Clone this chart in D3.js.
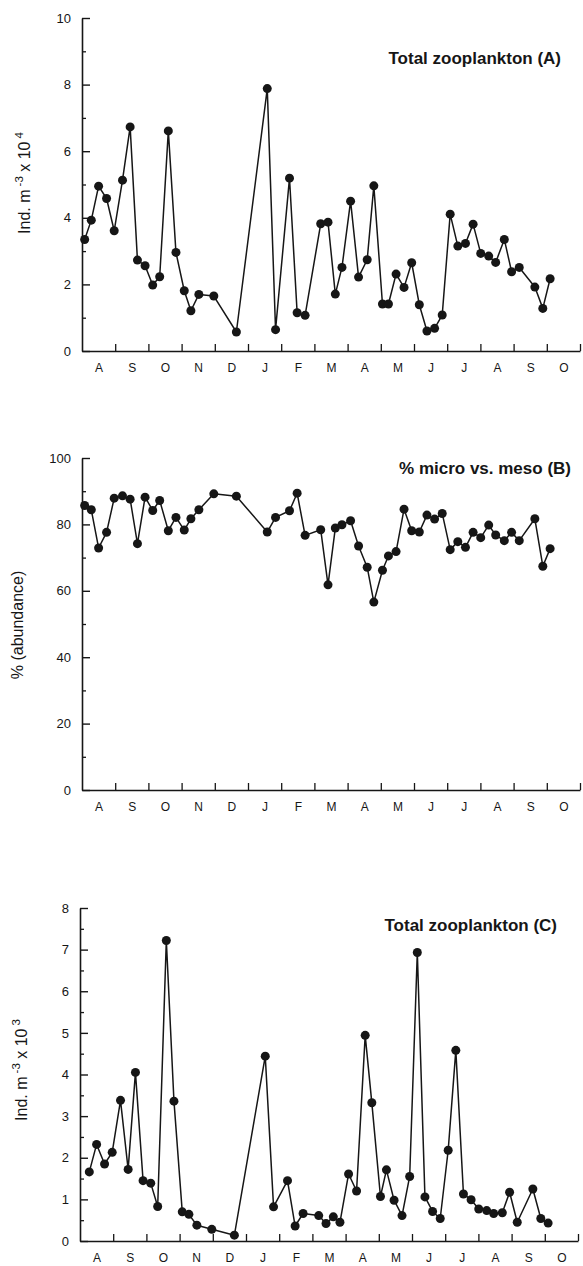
<!DOCTYPE html>
<html><head><meta charset="utf-8">
<script src="https://cdn.jsdelivr.net/npm/d3@7"></script>
<style>
html,body{margin:0;padding:0;background:#fff;}
svg{display:block;font-family:"Liberation Sans",Arial,Helvetica,sans-serif;}
</style></head>
<body>
<svg id="chart" width="583" height="1266"></svg>
<script>
// Month labels (Aug through Oct of the following year)
const monthLabels = ["A","S","O","N","D","J","F","M","A","M","J","J","A","S","O"];
// Sampling dates, as month offsets from start of August
const sampleMonths = [0.08,0.28,0.50,0.74,0.97,1.22,1.45,1.67,1.90,2.13,2.34,2.60,2.83,3.08,3.28,3.52,3.97,4.65,
  5.58,5.83,6.25,6.48,6.72,7.19,7.41,7.63,7.83,8.09,8.33,8.59,8.79,9.05,9.23,9.46,9.70,9.93,10.16,10.39,10.62,10.85,
  11.09,11.32,11.55,11.78,12.01,12.25,12.46,12.72,12.94,13.17,13.64,13.88,14.10];
// Panel A: Total zooplankton, ind m^-3 x 10^4
const totalA = [3.35,3.93,4.95,4.58,3.61,5.13,6.73,2.73,2.56,1.98,2.23,6.61,2.96,1.81,1.21,1.70,1.65,0.57,
  7.88,0.64,5.19,1.15,1.07,3.82,3.87,1.71,2.51,4.50,2.22,2.74,4.96,1.41,1.41,2.31,1.91,2.65,1.39,0.60,0.68,1.08,
  4.11,3.15,3.23,3.81,2.93,2.85,2.66,3.35,2.38,2.51,1.92,1.28,2.17];
// Panel B: % micro vs. meso (abundance)
const pctB = [85.7,84.4,72.9,77.6,87.9,88.6,87.6,74.2,88.2,84.2,87.2,78.1,82.1,78.3,81.7,84.4,89.2,88.5,
  77.7,82.1,84.1,89.4,76.7,78.4,61.8,78.9,79.9,81.1,73.5,67.1,56.6,66.2,70.5,71.8,84.6,78.1,77.7,82.8,81.6,83.3,
  72.4,74.8,73.1,77.6,76.0,79.8,76.8,75.1,77.6,75.1,81.7,67.4,72.7];
// Panel C: Total zooplankton, ind m^-3 x 10^3 (no sample on first date)
const totalC = [null,1.66,2.32,1.85,2.13,3.38,1.72,4.05,1.45,1.39,0.83,7.22,3.36,0.70,0.64,0.38,0.28,0.14,
  4.44,0.82,1.45,0.36,0.66,0.61,0.42,0.58,0.45,1.61,1.20,4.94,3.32,1.07,1.71,0.98,0.61,1.55,6.93,1.06,0.71,0.54,
  2.18,4.58,1.13,0.99,0.77,0.73,0.66,0.68,1.17,0.45,1.25,0.54,0.43];

const titles = ["Total zooplankton (A)", "% micro vs. meso (B)", "Total zooplankton (C)"];

const svg = d3.select("#chart");
const ink = "#161616";

const panels = [
  {values: totalA, x0: 82, x1: 580, yTop: 18, yBot: 351, ymax: 10, major: 2, minor: 1,
   title: titles[0], titleX: 561, titleY: 64, ylabX: 30, ylabY: 183, ylab: ["Ind. m", "-3", " x 10", "4"]},
  {values: pctB, x0: 82, x1: 580, yTop: 458, yBot: 790, ymax: 100, major: 20, minor: 10,
   title: titles[1], titleX: 571, titleY: 474, ylabX: 23, ylabY: 625, ylab: ["% (abundance)"]},
  {values: totalC, x0: 80, x1: 578, yTop: 908, yBot: 1241, ymax: 8, major: 1, minor: 0.5,
   title: titles[2], titleX: 557, titleY: 931, ylabX: 27, ylabY: 1070, ylab: ["Ind. m", "-3", " x 10", "3"]}
];

panels.forEach(p => {
  const x = d3.scaleLinear().domain([0, monthLabels.length]).range([p.x0, p.x1]);
  const y = d3.scaleLinear().domain([0, p.ymax]).range([p.yBot, p.yTop]);
  const g = svg.append("g");

  // minor y ticks
  const minorVals = d3.range(0, p.ymax + 1e-9, p.minor).filter(v => Math.abs(v / p.major - Math.round(v / p.major)) > 1e-6);
  g.append("g").attr("transform", `translate(${p.x0},0)`)
    .call(d3.axisLeft(y).tickValues(minorVals).tickSizeInner(-4).tickSizeOuter(0).tickFormat(""))
    .call(a => a.select(".domain").remove())
    .call(a => a.selectAll("line").attr("stroke", ink).attr("stroke-width", 1.3));

  // major y axis
  const majorVals = d3.range(0, p.ymax + 1e-9, p.major);
  g.append("g").attr("transform", `translate(${p.x0},0)`)
    .call(d3.axisLeft(y).tickValues(majorVals).tickSizeInner(-8).tickSizeOuter(0).tickPadding(11).tickFormat(d3.format("d")))
    .call(a => a.select(".domain").attr("stroke", ink).attr("stroke-width", 1.6))
    .call(a => a.selectAll("line").attr("stroke", ink).attr("stroke-width", 1.4))
    .call(a => a.selectAll("text").attr("fill", ink).attr("font-size", 13).attr("font-family", "Liberation Sans, Arial, sans-serif"));

  // x axis: month boundary ticks (upward)
  g.append("g").attr("transform", `translate(0,${p.yBot})`)
    .call(d3.axisBottom(x).tickValues(d3.range(1, monthLabels.length + 1)).tickSizeInner(-7).tickSizeOuter(0).tickFormat(""))
    .call(a => a.select(".domain").attr("stroke", ink).attr("stroke-width", 1.6))
    .call(a => a.selectAll("line").attr("stroke", ink).attr("stroke-width", 1.3));

  // x axis: month labels centred within months
  g.append("g").attr("transform", `translate(0,${p.yBot})`)
    .call(d3.axisBottom(x).tickValues(d3.range(0.5, monthLabels.length, 1)).tickSize(0).tickPadding(12)
      .tickFormat((d, i) => monthLabels[i]))
    .call(a => a.select(".domain").remove())
    .call(a => a.selectAll("text").attr("fill", ink).attr("font-size", 12).attr("font-family", "Liberation Sans, Arial, sans-serif"));

  // data
  const pts = sampleMonths.map((m, i) => ({m, v: p.values[i]})).filter(d => d.v != null);
  const line = d3.line().x(d => x(d.m)).y(d => y(d.v));
  g.append("path").datum(pts).attr("d", line)
    .attr("fill", "none").attr("stroke", ink).attr("stroke-width", 1.5).attr("stroke-linejoin", "round");
  g.selectAll("circle").data(pts).join("circle")
    .attr("cx", d => x(d.m)).attr("cy", d => y(d.v)).attr("r", 4.5).attr("fill", ink);

  // title
  g.append("text").attr("x", p.titleX).attr("y", p.titleY).attr("text-anchor", "end")
    .attr("font-size", 17).attr("font-weight", "bold").attr("fill", ink).text(p.title);

  // y label
  const t = g.append("text").attr("transform", `translate(${p.ylabX},${p.ylabY}) rotate(-90)`)
    .attr("text-anchor", "middle").attr("font-size", 16).attr("fill", ink);
  if (p.ylab.length === 1) {
    t.text(p.ylab[0]);
  } else {
    t.append("tspan").text(p.ylab[0]);
    t.append("tspan").attr("dy", -7).attr("dx", 3).attr("font-size", 11.5).text(p.ylab[1]);
    t.append("tspan").attr("dy", 7).text(p.ylab[2]);
    t.append("tspan").attr("dy", -7).attr("dx", 3).attr("font-size", 11.5).text(p.ylab[3]);
  }
});
</script>
</body></html>
